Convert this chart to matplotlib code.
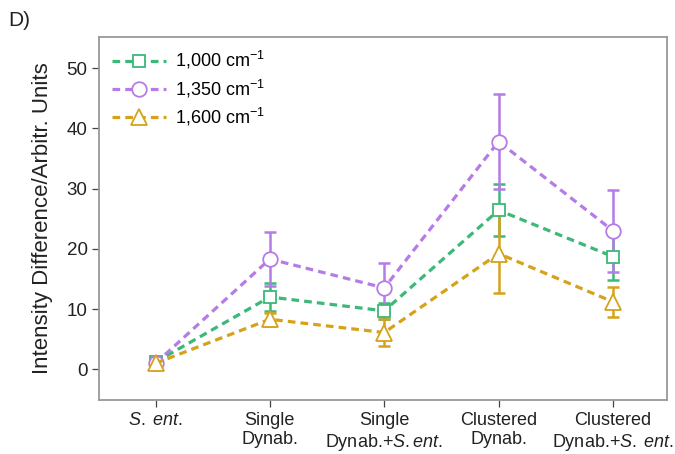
import matplotlib
matplotlib.use("Agg")
import matplotlib.pyplot as plt
import numpy as np

plt.rcParams['font.family'] = ['Liberation Sans', 'DejaVu Sans']
plt.rcParams['mathtext.fontset'] = 'custom'
plt.rcParams['mathtext.rm'] = 'Liberation Sans'
plt.rcParams['mathtext.it'] = 'Liberation Sans:italic'
plt.rcParams['mathtext.default'] = 'regular'

categories = [r'$\it{S.\;ent.}$', 'Single\nDynab.', 'Single\nDynab.+$\\it{S.ent.}$',
              'Clustered\nDynab.', 'Clustered\nDynab.+$\\it{S.\\;ent.}$']
labels = ['1,000 cm$^{-1}$', '1,350 cm$^{-1}$', '1,600 cm$^{-1}$']
green_vals = [1.2, 12.0, 9.7, 26.4, 18.7]
green_err = [0.3, 2.4, 1.3, 4.3, 3.8]
purple_vals = [1.0, 18.3, 13.5, 37.8, 23.0]
purple_err = [0.3, 4.5, 4.1, 7.9, 6.8]
yellow_vals = [1.0, 8.3, 6.1, 19.2, 11.2]
yellow_err = [0.3, 1.1, 2.3, 6.6, 2.5]

colors = ['#3cb878', '#b57be6', '#d5a21a']
markers = ['s', 'o', '^']
msizes = [9, 10.5, 11]

fig = plt.figure(figsize=(6.75, 4.54), dpi=100)
ax = fig.add_axes([0.1474, 0.1189, 0.9877 - 0.1474, 0.9192 - 0.1189])
x = np.arange(len(categories))

series = [(green_vals, green_err), (purple_vals, purple_err), (yellow_vals, yellow_err)]
for i, ((v, e), c, m, ms, lab) in enumerate(zip(series, colors, markers, msizes, labels)):
    ax.errorbar(x, v, yerr=e, fmt='none', ecolor=c, elinewidth=1.8, capsize=4.5,
                capthick=1.8, zorder=2 + i)
    ax.plot(x, v, linestyle=(0, (2.4, 1.6)), color=c, lw=2.3, marker=m, ms=ms,
            mfc='white', mec=c, mew=1.3, label=lab, zorder=5 + i)

ax.set_xlim(-0.49, 4.47)
ax.set_ylim(-5.1, 55.2)
ax.set_yticks([0, 10, 20, 30, 40, 50])
ax.set_xticks(x)
ax.set_xticklabels(categories, fontsize=13, color='#222222')
ax.tick_params(axis='y', labelsize=13.5, labelcolor='#222222')
ax.tick_params(axis='both', direction='out', length=5, width=0.9, color='#444444')
for s in ax.spines.values():
    s.set_color('#999999')
    s.set_linewidth(1.3)
ax.set_ylabel('Intensity Difference/Arbitr. Units', fontsize=16, color='#222222', labelpad=10)

leg = ax.legend(loc='upper left', frameon=False, fontsize=13, handlelength=3.0,
                borderaxespad=0.3, labelspacing=0.35, handletextpad=0.5)

fig.text(0.012, 0.955, 'D)', fontsize=15, color='#222222', va='center')
fig.savefig('out.png', dpi=100)
